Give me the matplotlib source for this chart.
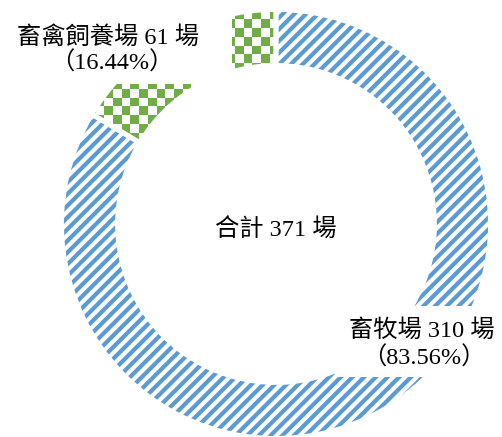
import numpy as np
import matplotlib
matplotlib.use("Agg")
import matplotlib.pyplot as plt
from matplotlib.colors import ListedColormap, LinearSegmentedColormap

# data
names = ["畜禽飼養場", "畜牧場"]
counts = [61, 310]
pcts = [16.44, 83.56]
total = 371

blue = "#5B9BD5"
green = "#70AD47"

plt.rcParams["font.family"] = ["Liberation Serif", "Noto Sans CJK TC", "DejaVu Sans"]

DPI = 70
W, H = 502, 437
fig = plt.figure(figsize=(W / DPI, H / DPI), dpi=DPI)
ax = fig.add_axes([0, 0, 1, 1])

cx, cy = 276, H - 224
R, ring = 214.5, 56

wedges, _ = ax.pie(counts, startangle=90, counterclock=True, radius=R,
                   center=(cx, cy), wedgeprops=dict(width=ring, linewidth=0,
                                                    facecolor="white"))

# blue slice: diagonal stripes, drawn as an image clipped to the wedge
xx, yy = np.meshgrid(np.arange(W) + 0.5, np.arange(H) + 0.5)
period = 11.7 / np.sqrt(2)
thick = 4.2
u = np.mod((xx - yy) / np.sqrt(2), period)
dist = np.minimum(u, period - u)
stripes = np.clip(thick / 2 - dist + 0.5, 0, 1)
stripe_img = ax.imshow(stripes, cmap=LinearSegmentedColormap.from_list("s", ["white", blue]),
                       vmin=0, vmax=1, interpolation="nearest",
                       extent=(0, W, 0, H), origin="lower", zorder=1.5)
stripe_img.set_clip_path(wedges[1])

# green slice: checkerboard clipped to the wedge
cell = 8.7
nx, ny = int(W / cell) + 2, int(H / cell) + 2
board = np.indices((ny, nx)).sum(axis=0) % 2
img = ax.imshow(board, cmap=ListedColormap(["white", green]), interpolation="nearest",
                extent=(0, nx * cell, 0, ny * cell), origin="lower", zorder=1.5)
img.set_clip_path(wedges[0])

# white separators between slices
sep, _ = ax.pie(counts, startangle=90, counterclock=True, radius=R,
                center=(cx, cy), wedgeprops=dict(width=ring, facecolor="none",
                                                 edgecolor="white", linewidth=5.0))
for s in sep:
    s.set_zorder(3)

# white label boxes
ax.add_patch(plt.Rectangle((0, H - 84), 232, 84, facecolor="white", edgecolor="none", zorder=4))
ax.add_patch(plt.Rectangle((335, H - 377), 167, 71, facecolor="white", edgecolor="none", zorder=4))

fs = 25
ax.text(108, H - 37, f"{names[0]} {counts[0]} 場", ha="center", va="center", fontsize=fs, zorder=5)
ax.text(112, H - 63, f"（{pcts[0]:.2f}%）", ha="center", va="center", fontsize=fs, zorder=5)
ax.text(422, H - 330, f"{names[1]} {counts[1]} 場", ha="center", va="center", fontsize=fs, zorder=5)
ax.text(424, H - 358, f"（{pcts[1]:.2f}%）", ha="center", va="center", fontsize=fs, zorder=5)
ax.text(cx, H - 230, f"合計 {total} 場", ha="center", va="center", fontsize=fs, zorder=5)

ax.set_xlim(0, W)
ax.set_ylim(0, H)
ax.set_aspect("equal")
ax.axis("off")

fig.savefig("out.png", dpi=DPI, facecolor="white")
